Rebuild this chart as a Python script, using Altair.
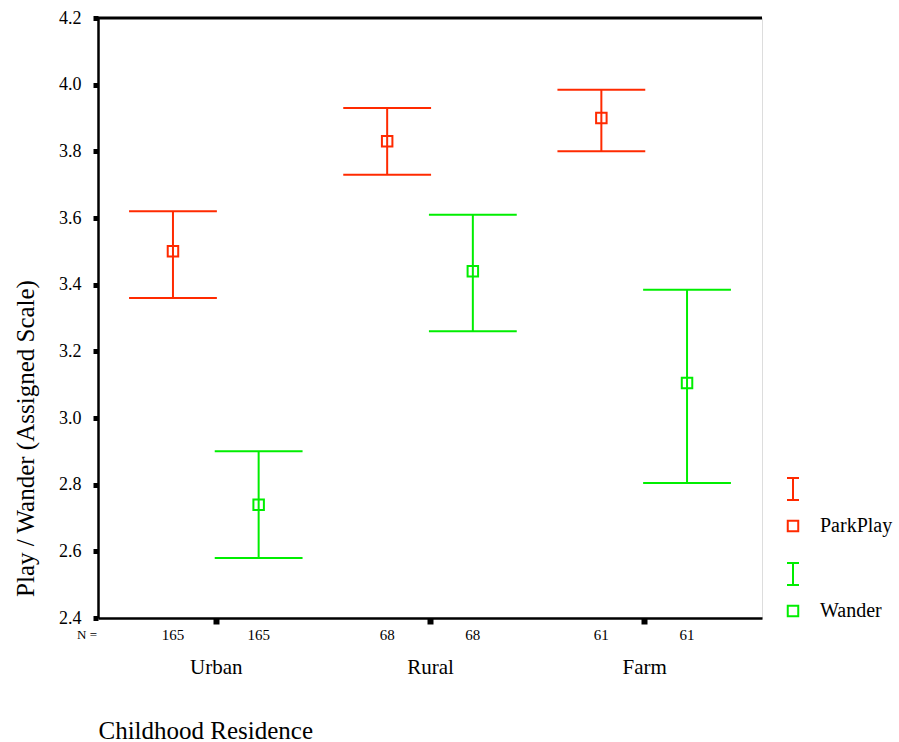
import json
import altair as alt
import pandas as pd

categories = ["Urban", "Rural", "Farm"]
series_names = ["ParkPlay", "Wander"]
n_counts = [165, 68, 61]
park_mean = [3.50, 3.83, 3.90]
park_upper = [3.62, 3.93, 3.985]
park_lower = [3.36, 3.73, 3.80]
wander_mean = [2.74, 3.44, 3.105]
wander_upper = [2.90, 3.61, 3.385]
wander_lower = [2.58, 3.26, 2.805]
y_ticks = [2.4, 2.6, 2.8, 3.0, 3.2, 3.4, 3.6, 3.8, 4.0, 4.2]
colors = ["#ff2a00", "#00ee00"]
FONT = "Liberation Serif"

rows = []
for i, c in enumerate(categories):
    for s, m, u, l in [("ParkPlay", park_mean, park_upper, park_lower),
                       ("Wander", wander_mean, wander_upper, wander_lower)]:
        rows.append(dict(cat=c, idx=i, series=s, mean=m[i], upper=u[i], lower=l[i], n=n_counts[i]))
df = pd.DataFrame(rows)

W, H = 664, 600
xs = alt.Scale(domain=[-0.55, 2.55], nice=False, zero=False)
ys = alt.Scale(domain=[2.4, 4.2], nice=False, zero=False)
color = alt.Color("series:N", scale=alt.Scale(domain=series_names, range=colors), legend=None)

xaxis = alt.Axis(
    values=[0, 1, 2], labelExpr=json.dumps(categories) + "[datum.value]",
    grid=False, domainColor="black", domainWidth=2.5, tickColor="black",
    tickWidth=6, tickSize=6, labelFont=FONT, labelFontSize=21, labelColor="black",
    labelPadding=32, title="Childhood Residence", titleFont=FONT, titleFontSize=25,
    titleFontWeight="normal", titleColor="black", titleX=0, titleY=120,
    titleAlign="left", titleBaseline="alphabetic",
)
yaxis = alt.Axis(
    values=y_ticks, format=".1f", grid=False, domainColor="black", domainWidth=2.5,
    tickColor="black", tickWidth=5, tickSize=5, labelFont=FONT, labelFontSize=18,
    labelColor="black", labelPadding=12, title="Play / Wander (Assigned Scale)",
    titleFont=FONT, titleFontSize=25, titleFontWeight="normal", titleColor="black",
    titleX=-73, titleY=420, titleAngle=-90, titleAlign="center", titleBaseline="middle",
)

base = (alt.Chart(df)
        .transform_calculate(pos="datum.idx + (datum.series == 'ParkPlay' ? -0.2 : 0.2)")
        .transform_calculate(capL="datum.pos - 0.205", capR="datum.pos + 0.205"))

stems = base.mark_rule(strokeWidth=2).encode(
    x=alt.X("pos:Q", scale=xs, axis=xaxis),
    y=alt.Y("lower:Q", scale=ys, axis=yaxis),
    y2="upper:Q", color=color)
caps_up = base.mark_rule(strokeWidth=2).encode(
    x=alt.X("capL:Q", scale=xs), x2="capR:Q", y=alt.Y("upper:Q", scale=ys), color=color)
caps_lo = base.mark_rule(strokeWidth=2).encode(
    x=alt.X("capL:Q", scale=xs), x2="capR:Q", y=alt.Y("lower:Q", scale=ys), color=color)
points = base.mark_point(shape="square", filled=False, size=110, strokeWidth=2, opacity=1).encode(
    x=alt.X("pos:Q", scale=xs), y=alt.Y("mean:Q", scale=ys), color=color)
nlabels = base.mark_text(font=FONT, fontSize=15, color="black", baseline="middle").encode(
    x=alt.X("pos:Q", scale=xs), y=alt.value(617), text="n:Q")

one = pd.DataFrame({"k": [0]})
nhead = alt.Chart(one).mark_text(font=FONT, fontSize=13, color="black", baseline="middle").encode(
    x=alt.value(-11), y=alt.value(617), text=alt.value("N ="))
topline = alt.Chart(one).mark_rule(color="black", strokeWidth=3).encode(
    x=alt.value(-3), x2=alt.value(W), y=alt.value(0))

legend_layers = []
for i, (name, col) in enumerate(zip(series_names, colors)):
    y0 = 460 + i * 85
    y1 = y0 + 22
    ys_sq = y0 + 48
    legend_layers += [
        alt.Chart(one).mark_rule(color=col, strokeWidth=2).encode(
            x=alt.value(695), y=alt.value(y0), y2=alt.value(y1)),
        alt.Chart(one).mark_rule(color=col, strokeWidth=2).encode(
            x=alt.value(689), x2=alt.value(701), y=alt.value(y0)),
        alt.Chart(one).mark_rule(color=col, strokeWidth=2).encode(
            x=alt.value(689), x2=alt.value(701), y=alt.value(y1)),
        alt.Chart(one).mark_point(shape="square", filled=False, size=110, strokeWidth=2,
                                  color=col, opacity=1).encode(
            x=alt.value(695), y=alt.value(ys_sq)),
        alt.Chart(one).mark_text(font=FONT, fontSize=20, color="black", align="left",
                                 baseline="middle").encode(
            x=alt.value(722), y=alt.value(ys_sq), text=alt.value(name)),
    ]

chart = alt.layer(stems, caps_up, caps_lo, points, nlabels, nhead, topline, *legend_layers).properties(
    width=W, height=H,
    autosize=alt.AutoSizeParams(type="none"),
    padding={"left": 98, "top": 18, "right": 137, "bottom": 124},
    background="white",
).configure_view(stroke="#dddddd", strokeWidth=1)

chart.save("out.html", embed_options={"renderer": "svg", "actions": False})
